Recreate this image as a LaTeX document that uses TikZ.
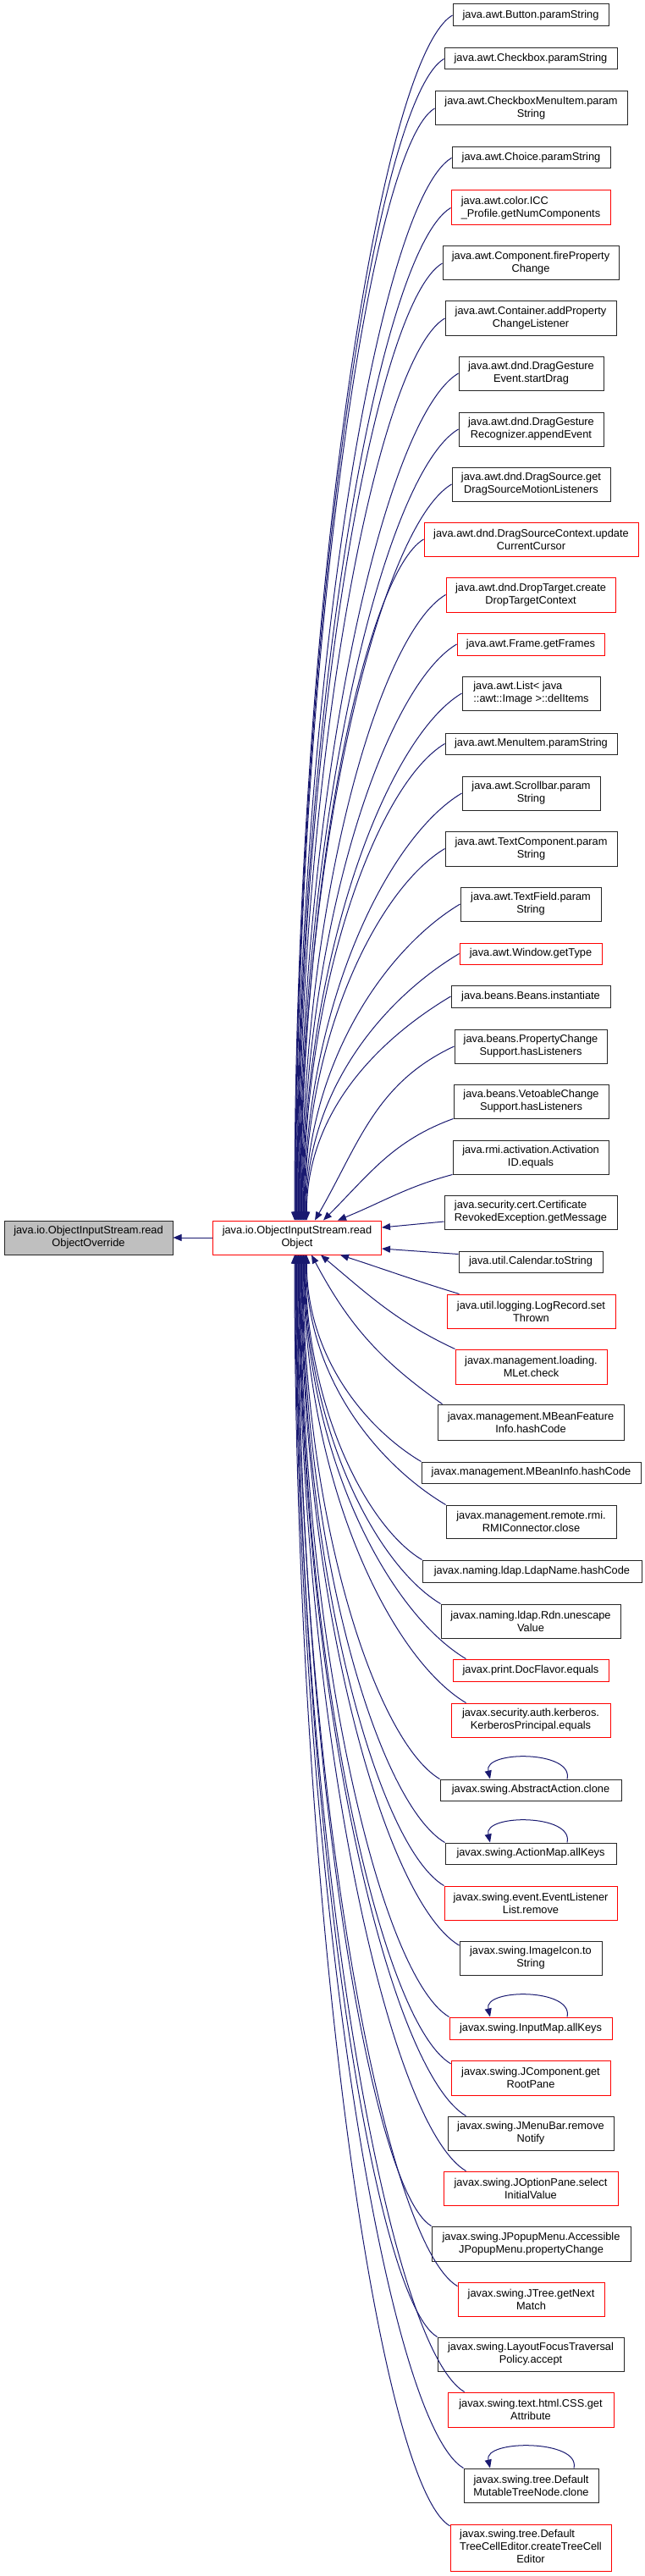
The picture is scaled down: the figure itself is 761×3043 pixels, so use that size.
\documentclass[tikz,border=0pt]{standalone}
\usepackage{fontspec}
\setmainfont{Liberation Sans}
\usepackage{tikz}
\usetikzlibrary{arrows.meta, calc}
\usepackage{xcolor}
\definecolor{edgeblue}{HTML}{191970}
\definecolor{rootgray}{HTML}{BFBFBF}
\newcommand{\fnfont}{\fontsize{9.6pt}{11.25pt}\selectfont}

\begin{document}
\begin{tikzpicture}[
x=0.75pt, y=0.75pt,
fn/.style={draw=black!85, line width=0.75pt, inner sep=0pt, align=center, font=\fnfont},
fnred/.style={fn, draw=red},
sz/.style 2 args={minimum width=#1*0.75pt, minimum height=#2*0.75pt},
edge/.style={color=edgeblue, line width=0.75pt, -{Triangle[length=7.5pt, width=6pt]}}
]
\useasboundingbox (0,0) rectangle (761,-3043);

\node[fn, fill=rootgray, sz={199}{40}] (root) at (104.5,-1462) {java.io.ObjectInputStream.read\\ObjectOverride};
\node[fnred, sz={199}{40}] (mid) at (351,-1462) {java.io.ObjectInputStream.read\\Object};

\node[fn, sz={184}{26}] (r1) at (627,-18) {java.awt.Button.paramString};
\node[fn, sz={204}{25}] (r2) at (627,-69.5) {java.awt.Checkbox.paramString};
\node[fn, sz={227}{40}] (r3) at (627.5,-128) {java.awt.CheckboxMenuItem.param\\String};
\node[fn, sz={187}{25}] (r4) at (627.5,-186.5) {java.awt.Choice.paramString};
\node[fnred, sz={188}{41}, align=left] (r5) at (627,-245.5) {java.awt.color.ICC\\\_Profile.getNumComponents};
\node[fn, sz={208}{40}] (r6) at (627,-311) {java.awt.Component.fireProperty\\Change};
\node[fn, sz={202}{40}] (r7) at (627,-376) {java.awt.Container.addProperty\\ChangeListener};
\node[fn, sz={171}{40}] (r8) at (627.5,-441) {java.awt.dnd.DragGesture\\Event.startDrag};
\node[fn, sz={171}{40}] (r9) at (627.5,-507) {java.awt.dnd.DragGesture\\Recognizer.appendEvent};
\node[fn, sz={187}{40}] (r10) at (627.5,-572) {java.awt.dnd.DragSource.get\\DragSourceMotionListeners};
\node[fnred, sz={253}{40}] (r11) at (627.5,-637) {java.awt.dnd.DragSourceContext.update\\CurrentCursor};
\node[fnred, sz={200}{41}] (r12) at (627,-702.5) {java.awt.dnd.DropTarget.create\\DropTargetContext};
\node[fnred, sz={174}{26}] (r13) at (627,-761) {java.awt.Frame.getFrames};
\node[fn, sz={163}{40}, align=left] (r14) at (627.5,-819) {java.awt.List< java\\::awt::Image >::delItems};
\node[fn, sz={203}{25}] (r15) at (627.5,-878.5) {java.awt.MenuItem.paramString};
\node[fn, sz={163}{40}] (r16) at (627.5,-937) {java.awt.Scrollbar.param\\String};
\node[fn, sz={203}{41}] (r17) at (627.5,-1002.5) {java.awt.TextComponent.param\\String};
\node[fn, sz={166}{40}] (r18) at (627,-1068) {java.awt.TextField.param\\String};
\node[fnred, sz={168}{25}] (r19) at (627,-1126.5) {java.awt.Window.getType};
\node[fn, sz={188}{26}] (r20) at (627,-1177) {java.beans.Beans.instantiate};
\node[fn, sz={180}{40}] (r21) at (627,-1236) {java.beans.PropertyChange\\Support.hasListeners};
\node[fn, sz={183}{40}] (r22) at (627.5,-1301) {java.beans.VetoableChange\\Support.hasListeners};
\node[fn, sz={184}{40}] (r23) at (627,-1367) {java.rmi.activation.Activation\\ID.equals};
\node[fn, sz={204}{40}, align=left] (r24) at (627,-1432) {java.security.cert.Certificate\\RevokedException.getMessage};
\node[fn, sz={170}{25}] (r25) at (627,-1490.5) {java.util.Calendar.toString};
\node[fnred, sz={199}{40}] (r26) at (627.5,-1549) {java.util.logging.LogRecord.set\\Thrown};
\node[fnred, sz={179}{41}] (r27) at (627.5,-1614.5) {javax.management.loading.\\MLet.check};
\node[fn, sz={220}{42}] (r28) at (627,-1680) {javax.management.MBeanFeature\\Info.hashCode};
\node[fn, sz={259}{25}] (r29) at (627.5,-1739.5) {javax.management.MBeanInfo.hashCode};
\node[fn, sz={201}{39}] (r30) at (627.5,-1797.5) {javax.management.remote.rmi.\\RMIConnector.close};
\node[fn, sz={259}{26}] (r31) at (628.5,-1856) {javax.naming.ldap.LdapName.hashCode};
\node[fn, sz={212}{40}] (r32) at (627,-1915) {javax.naming.ldap.Rdn.unescape\\Value};
\node[fnred, sz={184}{26}] (r33) at (627,-1973) {javax.print.DocFlavor.equals};
\node[fnred, sz={188}{40}] (r34) at (627,-2032) {javax.security.auth.kerberos.\\KerberosPrincipal.equals};
\node[fn, sz={214}{25}] (r35) at (627,-2114.5) {javax.swing.AbstractAction.clone};
\node[fn, sz={202}{25}] (r36) at (627,-2189.5) {javax.swing.ActionMap.allKeys};
\node[fnred, sz={204}{40}] (r37) at (627,-2248) {javax.swing.event.EventListener\\List.remove};
\node[fn, sz={168}{40}] (r38) at (627,-2313) {javax.swing.ImageIcon.to\\String};
\node[fnred, sz={192}{26}] (r39) at (627,-2396) {javax.swing.InputMap.allKeys};
\node[fnred, sz={188}{41}] (r40) at (627,-2454.5) {javax.swing.JComponent.get\\RootPane};
\node[fn, sz={196}{40}] (r41) at (627,-2520) {javax.swing.JMenuBar.remove\\Notify};
\node[fnred, sz={206}{40}] (r42) at (627,-2585) {javax.swing.JOptionPane.select\\InitialValue};
\node[fn, sz={235}{41}] (r43) at (627.5,-2650.5) {javax.swing.JPopupMenu.Accessible\\JPopupMenu.propertyChange};
\node[fnred, sz={173}{40}] (r44) at (627.5,-2716) {javax.swing.JTree.getNext\\Match};
\node[fn, sz={220}{40}] (r45) at (627,-2781) {javax.swing.LayoutFocusTraversal\\Policy.accept};
\node[fnred, sz={196}{41}] (r46) at (627,-2846.5) {javax.swing.text.html.CSS.get\\Attribute};
\node[fn, sz={159}{40}] (r47) at (627.5,-2936) {javax.swing.tree.Default\\MutableTreeNode.clone};
\node[fnred, sz={190}{55}] (r48) at (627,-3009.5) {\begin{tabular}{@{}l@{}}javax.swing.tree.Default\\TreeCellEditor.createTreeCell\\\multicolumn{1}{@{}c@{}}{Editor}\end{tabular}};

\draw[edge] (mid) -- (root);

\foreach \i [evaluate=\i as \sh using -3+0.75*(\i-1)] in {1,...,20}
  \draw[edge] let \p1=(r\i.west), \p2=($(mid.north)+(\sh,0)$) in
    (\p1) .. controls +({-0.47*(\x1-\x2)},{-0.28*(\x1-\x2)}) and +(0pt,{0.5*(\y1-\y2)}) .. (\p2);

\foreach \i/\a [evaluate=\i as \sh using -3+0.75*(48-\i)] in {29/north west, 30/north west, 31/north west, 32/north west, 33/170, 34/165, 35/north west, 36/north west, 37/north west, 38/170, 39/north west, 40/170, 41/165, 42/165, 43/north west, 44/170, 45/north west, 46/165, 47/north west, 48/165}
  \draw[edge] let \p1=(r\i.\a), \p2=($(mid.south)+(\sh,0)$) in
    (\p1) .. controls +({-0.47*(\x1-\x2)},{0.28*(\x1-\x2)}) and +(0pt,{0.5*(\y1-\y2)}) .. (\p2);

\draw[edge] (r21.west) to[out=205, in=60] ($(mid.north)+(21,0)$);
\draw[edge] (r22.south west) to[out=200, in=45] ($(mid.north)+(31,0)$);
\draw[edge] (r23.south west) to[out=195, in=22] ($(mid.north)+(48,0)$);
\draw[edge] ($(r24.west)+(0,-11)$) -- ($(mid.east)+(0,12)$);
\draw[edge] ($(r25.west)+(0,9)$) -- ($(mid.east)+(0,-13)$);
\draw[edge] ($(r26.north west)+(15,0)$) to[out=163, in=-18] ($(mid.south)+(51,0)$);
\draw[edge] (r27.north west) to[out=155, in=-40] ($(mid.south)+(28,0)$);
\draw[edge] ($(r28.north west)+(6,0)$) to[out=145, in=-62] ($(mid.south)+(17,0)$);

\draw[edge] ($(r35.north)+(43,0)$) .. controls +(8,34) and +(-8,34) .. ($(r35.north)+(-48,0)$);
\draw[edge] ($(r36.north)+(43,0)$) .. controls +(8,34) and +(-8,34) .. ($(r36.north)+(-48,0)$);
\draw[edge] ($(r39.north)+(43,0)$) .. controls +(8,34) and +(-8,34) .. ($(r39.north)+(-48,0)$);
\draw[edge] ($(r47.north)+(50.5,0)$) .. controls +(8,34) and +(-8,34) .. ($(r47.north)+(-48.5,0)$);

\end{tikzpicture}
\end{document}
